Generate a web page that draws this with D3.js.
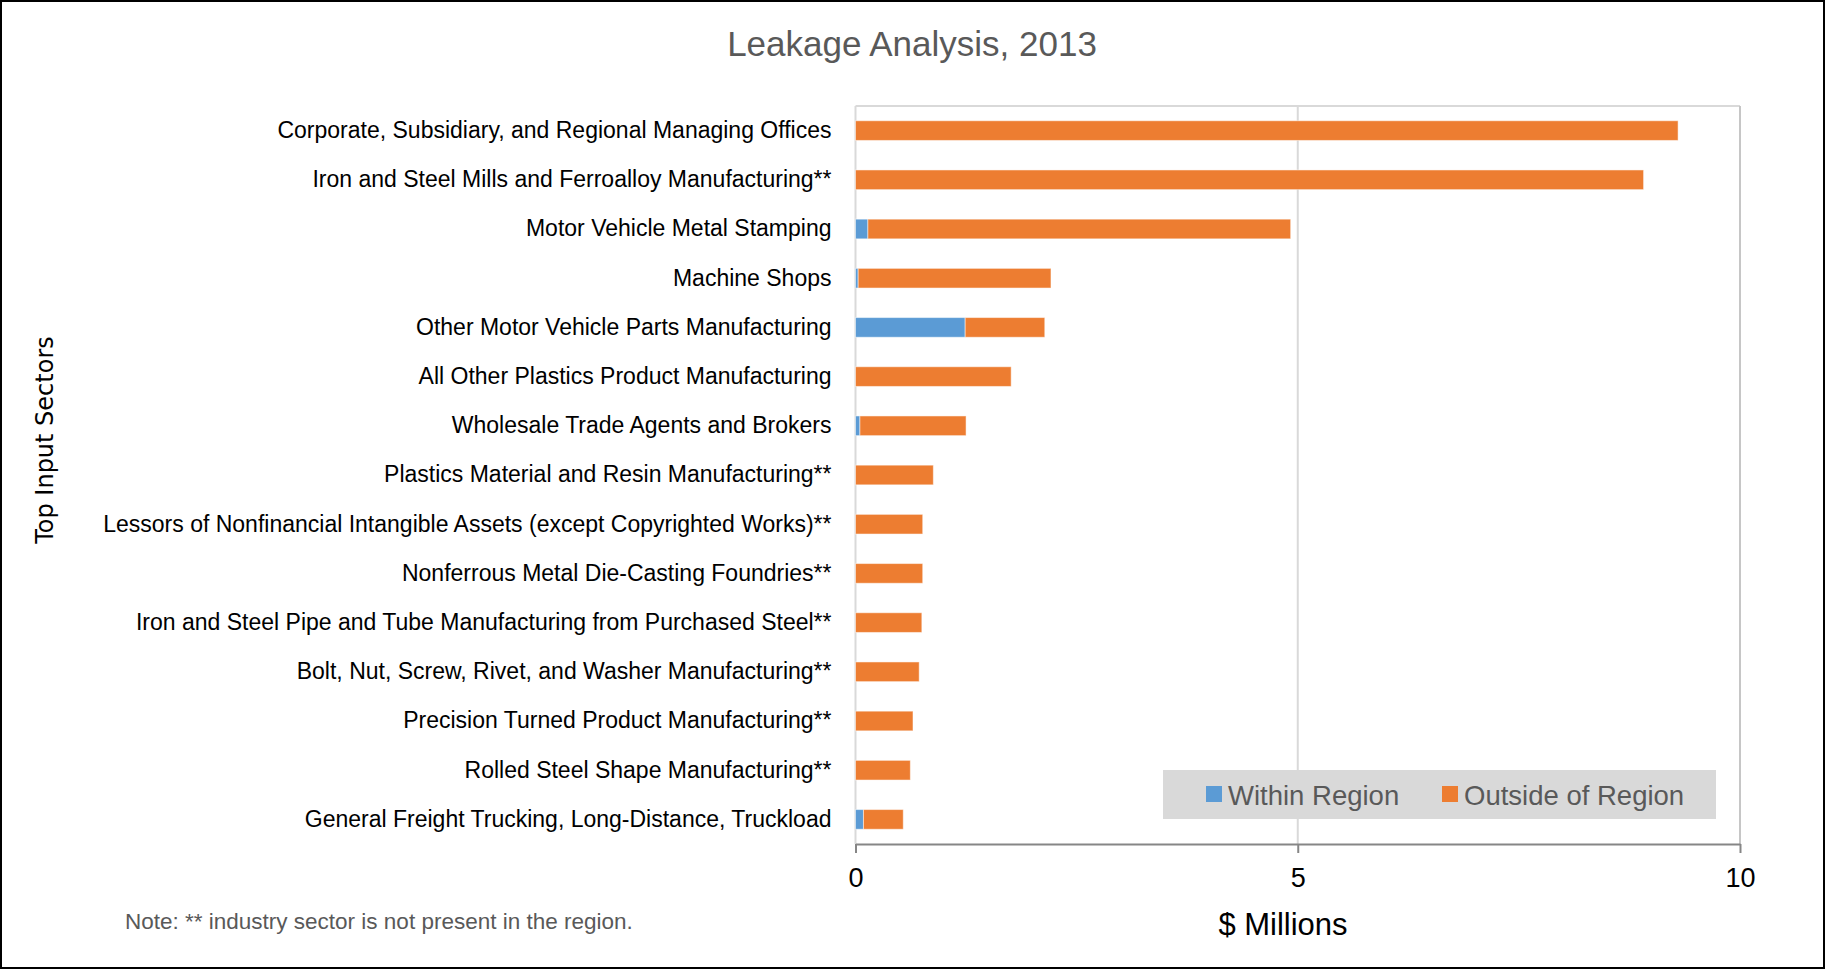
<!DOCTYPE html>
<html>
<head>
<meta charset="utf-8">
<script src="https://cdn.jsdelivr.net/npm/d3@7"></script>
<style>
  body { margin: 0; background: #fff; }
  svg { display: block; font-family: "Liberation Sans", Arial, sans-serif; }
</style>
</head>
<body>
<div id="chart"></div>
<script>
// Leakage analysis - stacked horizontal bars

const sectors = [
  "Corporate, Subsidiary, and Regional Managing Offices",
  "Iron and Steel Mills and Ferroalloy Manufacturing**",
  "Motor Vehicle Metal Stamping",
  "Machine Shops",
  "Other Motor Vehicle Parts Manufacturing",
  "All Other Plastics Product Manufacturing",
  "Wholesale Trade Agents and Brokers",
  "Plastics Material and Resin Manufacturing**",
  "Lessors of Nonfinancial Intangible Assets (except Copyrighted Works)**",
  "Nonferrous Metal Die-Casting Foundries**",
  "Iron and Steel Pipe and Tube Manufacturing from Purchased Steel**",
  "Bolt, Nut, Screw, Rivet, and Washer Manufacturing**",
  "Precision Turned Product Manufacturing**",
  "Rolled Steel Shape Manufacturing**",
  "General Freight Trucking, Long-Distance, Truckload"
];
const withinRegion  = [0, 0, 0.14, 0.03, 1.24, 0, 0.05, 0, 0, 0, 0, 0, 0, 0, 0.09];
const outsideRegion = [9.30, 8.91, 4.78, 2.18, 0.90, 1.76, 1.20, 0.88, 0.76, 0.76, 0.75, 0.72, 0.65, 0.62, 0.45];
const seriesNames = ["Within Region", "Outside of Region"];
const seriesColors = ["#5B9BD5", "#ED7D31"];
const xTicks = [0, 5, 10];

function main() {
  const width = 1825, height = 969;
  const plot = { left: 855.5, right: 1740, top: 106, bottom: 844 };

  const svg = d3.select("#chart").append("svg")
    .attr("width", width)
    .attr("height", height)
    .attr("viewBox", `0 0 ${width} ${height}`);

  svg.append("rect")
    .attr("x", 1).attr("y", 1)
    .attr("width", width - 2).attr("height", height - 2)
    .attr("fill", "#fff").attr("stroke", "#000").attr("stroke-width", 2);

  const rows = sectors.map((s, i) => ({
    sector: s,
    "Within Region": withinRegion[i],
    "Outside of Region": outsideRegion[i]
  }));

  const x = d3.scaleLinear().domain([0, 10]).range([plot.left, plot.right]);
  const y = d3.scaleBand().domain(sectors)
    .range([plot.top, plot.bottom])
    .paddingInner(0.6).paddingOuter(0.3);

  // gridlines + frame
  svg.append("g").selectAll("line").data(xTicks.slice(1))
    .join("line")
    .attr("x1", d => x(d)).attr("x2", d => x(d))
    .attr("y1", plot.top).attr("y2", plot.bottom)
    .attr("stroke", "#d9d9d9").attr("stroke-width", 2);
  svg.append("line")
    .attr("x1", plot.left).attr("x2", plot.right)
    .attr("y1", plot.top).attr("y2", plot.top)
    .attr("stroke", "#d9d9d9").attr("stroke-width", 2);
  svg.append("line")
    .attr("x1", plot.right).attr("x2", plot.right)
    .attr("y1", plot.top).attr("y2", plot.bottom)
    .attr("stroke", "#c6c6c6").attr("stroke-width", 2);
  svg.append("line")
    .attr("x1", plot.left).attr("x2", plot.left)
    .attr("y1", plot.top).attr("y2", plot.bottom)
    .attr("stroke", "#d9d9d9").attr("stroke-width", 2);

  // bars
  const stack = d3.stack().keys(seriesNames)(rows);
  svg.append("g").selectAll("g").data(stack)
    .join("g")
    .attr("fill", (d, i) => seriesColors[i])
    .selectAll("rect").data(d => d)
    .join("rect")
    .attr("x", d => x(d[0]))
    .attr("y", d => y(d.data.sector))
    .attr("width", d => x(d[1]) - x(d[0]))
    .attr("height", y.bandwidth())
    .attr("stroke", "#fff").attr("stroke-opacity", 0.5).attr("stroke-width", 1);

  // y axis labels
  const yAxis = svg.append("g")
    .attr("transform", `translate(${plot.left},0)`)
    .call(d3.axisLeft(y).tickSize(0).tickPadding(24));
  yAxis.select(".domain").remove();
  yAxis.selectAll("text")
    .attr("font-size", 23)
    .attr("font-family", "Liberation Sans, Arial, sans-serif")
    .attr("fill", "#000");

  // x axis
  const xAxis = svg.append("g")
    .attr("transform", `translate(0,${plot.bottom})`)
    .call(d3.axisBottom(x).tickValues(xTicks).tickSize(9).tickPadding(15).tickSizeOuter(0));
  xAxis.select(".domain").attr("stroke", "#868686").attr("stroke-width", 2);
  xAxis.selectAll(".tick line").attr("stroke", "#868686").attr("stroke-width", 2);
  xAxis.selectAll("text")
    .attr("font-size", 27)
    .attr("font-family", "Liberation Sans, Arial, sans-serif")
    .attr("fill", "#000");

  // titles
  svg.append("text")
    .attr("x", 912).attr("y", 56)
    .attr("text-anchor", "middle")
    .attr("font-size", 35)
    .attr("fill", "#595959")
    .text("Leakage Analysis, 2013");

  svg.append("text")
    .attr("x", 1283).attr("y", 935)
    .attr("text-anchor", "middle")
    .attr("font-size", 31)
    .attr("fill", "#000")
    .text("$ Millions");

  svg.append("text")
    .attr("transform", `translate(53,440) rotate(-90)`)
    .attr("text-anchor", "middle")
    .attr("font-size", 24)
    .attr("font-family", "DejaVu Sans, sans-serif")
    .attr("fill", "#000")
    .text("Top Input Sectors");

  svg.append("text")
    .attr("x", 125).attr("y", 929)
    .attr("font-size", 22.5)
    .attr("fill", "#595959")
    .text("Note: ** industry sector is not present in the region.");

  // legend
  const legend = svg.append("g");
  legend.append("rect")
    .attr("x", 1163).attr("y", 770)
    .attr("width", 553).attr("height", 49)
    .attr("fill", "#d9d9d9");
  const legendX = [1206, 1442];
  seriesNames.forEach((name, i) => {
    legend.append("rect")
      .attr("x", legendX[i]).attr("y", 786)
      .attr("width", 16).attr("height", 16)
      .attr("fill", seriesColors[i]);
    legend.append("text")
      .attr("x", legendX[i] + 22).attr("y", 805)
      .attr("font-size", 27.5)
      .attr("fill", "#595959")
      .text(name);
  });
}

main();
</script>
</body>
</html>
